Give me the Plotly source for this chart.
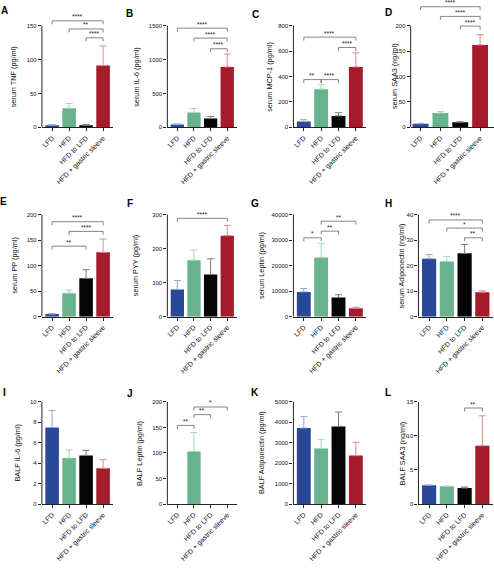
import plotly.graph_objects as go

W, H = 494, 572
FONT = "Liberation Sans, Arial, sans-serif"

groups = ["LFD", "HFD", "HFD to LFD", "HFD + gastric sleeve"]
bar_colors = ["#2a4898", "#68b28d", "#050505", "#a41c2c"]
err_colors = ["#8fa3d8", "#a3d6bb", "#7c7c7c", "#de8893"]

# ---- data (means and upper SEM) ----
tnf = [3, 28, 3, 91];            tnf_err = [1, 7, 1, 29]
il6 = [40, 220, 130, 890];       il6_err = [10, 55, 30, 190]
mcp1 = [45, 300, 90, 475];       mcp1_err = [15, 35, 25, 110]
saa3 = [7, 28, 10, 162];         saa3_err = [1, 3, 1, 20]
pp = [5, 46, 75, 126];           pp_err = [1, 6, 17, 26]
pyy = [80, 166, 124, 238];       pyy_err = [26, 30, 46, 30]
leptin = [9700, 23200, 7500, 3300]; leptin_err = [1300, 5400, 1100, 400]
adipo = [22.7, 21.6, 24.8, 9.6]; adipo_err = [1.6, 2.0, 3.5, 0.5]
balf_il6 = [7.5, 4.5, 4.75, 3.5]; balf_il6_err = [1.65, 0.8, 0.5, 0.85]
balf_leptin = [0, 103, 0, 0];    balf_leptin_err = [0, 37, 0, 0]
balf_adipo = [3720, 2720, 3800, 2370]; balf_adipo_err = [560, 430, 700, 650]
balf_saa3 = [2.75, 2.6, 2.35, 8.55]; balf_saa3_err = [0.05, 0.05, 0.15, 4.4]

letters = list("ABCDEFGHIJKL")
titles = ["serum TNF (pg/ml)", "serum IL-6 (pg/ml)", "serum MCP-1 (pg/ml)", "serum SAA3 (ng/ml)",
          "serum PP (pg/ml)", "serum PYY (pg/ml)", "serum Leptin (pg/ml)", "serum Adiponectin (ng/ml)",
          "BALF IL-6 (pg/ml)", "BALF Leptin (pg/ml)", "BALF Adiponectin (pg/ml)", "BALF SAA3 (ng/ml)"]
values = [tnf, il6, mcp1, saa3, pp, pyy, leptin, adipo, balf_il6, balf_leptin, balf_adipo, balf_saa3]
errors = [tnf_err, il6_err, mcp1_err, saa3_err, pp_err, pyy_err, leptin_err, adipo_err,
          balf_il6_err, balf_leptin_err, balf_adipo_err, balf_saa3_err]
yticks = [[0, 50, 100, 150], [0, 500, 1000, 1500], [0, 200, 400, 600, 800], [0, 50, 100, 150, 200],
          [0, 50, 100, 150, 200], [0, 100, 200, 300], [0, 10000, 20000, 30000, 40000], [0, 10, 20, 30, 40],
          [0, 2, 4, 6, 8, 10], [0, 50, 100, 150, 200], [0, 1000, 2000, 3000, 4000, 5000], [0, 5, 10, 15]]

# significance brackets: (group a, group b, height in data units, label)
brackets = [
    [(0, 3, 157, "****"), (1, 3, 145, "**"), (2, 3, 132, "****")],
    [(0, 3, 1462, "****"), (1, 3, 1315, "****"), (2, 3, 1158, "****")],
    [(0, 3, 709, "****"), (2, 3, 628, "****"), (0, 1, 375, "**"), (1, 2, 375, "****")],
    [(0, 3, 237, "****"), (1, 3, 218, "****"), (2, 3, 199, "****")],
    [(0, 3, 186, "****"), (1, 3, 167, "****"), (0, 2, 138, "**")],
    [(0, 3, 289, "****")],
    [(1, 3, 37400, "**"), (1, 2, 33500, "**"), (0, 1, 30900, "*")],
    [(0, 3, 37.9, "****"), (1, 3, 34.7, "*"), (2, 3, 30.9, "**")],
    [],
    [(1, 3, 190, "*"), (1, 2, 175, "**"), (0, 1, 154, "**")],
    [],
    [(2, 3, 14.1, "**")],
]

# ---- layout geometry in pixels (styling, not data) ----
rows = [dict(zero=128.0, top=25.7, dtop=1.0), dict(zero=318.3, top=215.7, dtop=192.0),
        dict(zero=506.7, top=404.0, dtop=381.0)]
cols_px = [[(41, 112.5), (166.7, 236.7), (293, 366), (410.5, 494)],
           [(41, 112.5), (166.7, 236.7), (293, 366), (418.3, 493)],
           [(41, 112.5), (166.7, 236.7), (293, 366), (418.3, 493)]]
title_off = [28, 31, 24, 16, 27.7, 31.7, 32, 16.6, 24.3, 27.4, 31.3, 15]
letter_pos = [(4, 11), (129, 14), (255, 15), (388, 13), (3, 203), (129, 205), (255, 205), (388, 205),
              (4, 395), (129, 396), (255, 395), (388, 395)]

fig = go.Figure()
layout = dict(width=W, height=H, margin=dict(l=0, r=0, t=0, b=0), paper_bgcolor="white",
              plot_bgcolor="white", showlegend=False, barmode="overlay",
              font=dict(family=FONT, size=7, color="#111"))
shapes, annos = [], []

for i in range(12):
    r, c = divmod(i, 4)
    g = rows[r]
    x0, x1 = cols_px[r][c]
    top_val = yticks[i][-1]
    ymax = top_val * (g["zero"] - g["dtop"]) / (g["zero"] - g["top"])
    px_per_unit = (g["zero"] - g["top"]) / top_val
    n = "" if i == 0 else str(i + 1)
    xa, ya = "x" + n, "y" + n
    xr = [-0.5, 3.7] if i == 3 else [-0.6, 3.6]
    layout["xaxis" + n] = dict(domain=[x0 / W, x1 / W], anchor=ya, range=xr,
                               type="category", tickangle=-45, ticks="outside", ticklen=3,
                               tickwidth=0.8, tickcolor="#222", showline=True, linecolor="#222",
                               linewidth=1, showgrid=False, zeroline=False,
                               tickfont=dict(family=FONT, size=7, color="#111"))
    layout["yaxis" + n] = dict(domain=[1 - g["zero"] / H, 1 - g["dtop"] / H], anchor=xa,
                               range=[0, ymax], tickvals=yticks[i],
                               ticktext=[str(v) for v in yticks[i]], ticks="outside", ticklen=3,
                               tickwidth=0.8, tickcolor="#222", showline=False, showgrid=False,
                               zeroline=False, tickfont=dict(family=FONT, size=6, color="#111"))
    for k in range(4):
        fig.add_trace(go.Bar(x=[groups[k]], y=[values[i][k]], xaxis=xa, yaxis=ya, width=0.8,
                             marker=dict(color=bar_colors[k], line=dict(width=0)),
                             error_y=dict(type="data", array=[errors[i][k]], arrayminus=[0],
                                          color=err_colors[k], thickness=1, width=3.5,
                                          visible=errors[i][k] > 0)))
    # y-axis line from 0 to top tick
    shapes.append(dict(type="line", xref=xa + " domain", yref=ya, x0=0, x1=0, y0=0, y1=top_val,
                       line=dict(color="#222", width=1)))
    drop = 3.5 / px_per_unit
    for (a, b, h, lab) in brackets[i]:
        fig.add_trace(go.Scatter(x=[groups[a], groups[a], groups[b], groups[b]],
                                 y=[h - drop, h, h, h - drop], xaxis=xa, yaxis=ya, mode="lines",
                                 line=dict(color="#666", width=0.8), hoverinfo="skip"))
        annos.append(dict(xref=xa, yref=ya, x=(a + b) / 2, y=h, text=lab, showarrow=False,
                          yanchor="bottom", yshift=-1.5, font=dict(family=FONT, size=6.5, color="#222")))
    annos.append(dict(xref=xa + " domain", yref=ya, x=0, y=top_val / 2, xshift=-title_off[i],
                      xanchor="center", yanchor="middle", textangle=-90, text=titles[i],
                      showarrow=False, font=dict(family=FONT, size=7.3, color="#111")))
    lx, ly = letter_pos[i]
    annos.append(dict(xref="paper", yref="paper", x=lx / W, y=1 - ly / H, text="<b>%s</b>" % letters[i],
                      showarrow=False, xanchor="center", yanchor="middle",
                      font=dict(family=FONT, size=10, color="#000")))

layout["shapes"] = shapes
layout["annotations"] = annos
fig.update_layout(**layout)
fig.write_html("out.html", config={"displayModeBar": False},
               post_script="document.body.style.margin='0';document.body.style.overflow='hidden';")
